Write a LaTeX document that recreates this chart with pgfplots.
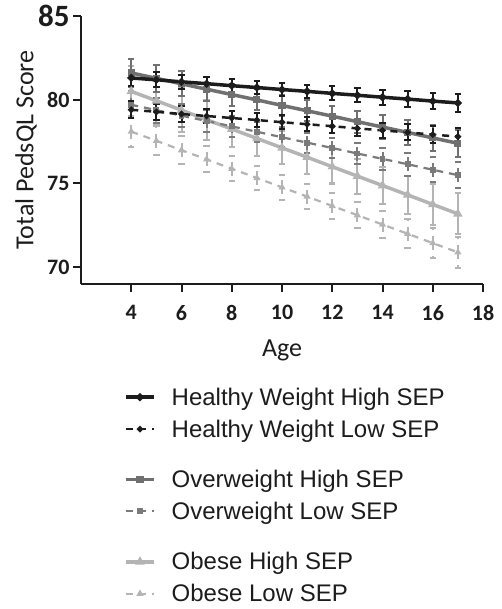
\documentclass[border=0pt]{standalone}
\usepackage{pgfplots}
\pgfplotsset{compat=1.18}
\usepackage{pgfplotstable}
\usepackage{fontspec}
\setmainfont{Carlito}
\newfontfamily\legendfont{Liberation Sans}
\definecolor{cblack}{RGB}{28,28,28}
\definecolor{cgray}{RGB}{112,112,112}
\definecolor{cgrayd}{RGB}{122,122,122}
\definecolor{clight}{RGB}{180,180,180}

\pgfplotstableread{
a y e
4 81.30 0.48
5 81.19 0.45
6 81.07 0.43
7 80.96 0.42
8 80.84 0.40
9 80.73 0.40
10 80.61 0.40
11 80.50 0.40
12 80.38 0.42
13 80.27 0.43
14 80.15 0.45
15 80.04 0.47
16 79.92 0.50
17 79.81 0.52
}\hwhigh
\pgfplotstableread{
a y e
4 79.40 0.50
5 79.28 0.48
6 79.15 0.46
7 79.03 0.44
8 78.91 0.43
9 78.79 0.42
10 78.66 0.42
11 78.54 0.42
12 78.42 0.43
13 78.29 0.44
14 78.17 0.46
15 78.05 0.48
16 77.92 0.50
17 77.80 0.52
}\hwlow
\pgfplotstableread{
a y e
4 81.60 0.85
5 81.28 0.80
6 80.95 0.75
7 80.63 0.70
8 80.31 0.66
9 79.99 0.63
10 79.66 0.62
11 79.34 0.62
12 79.02 0.63
13 78.69 0.66
14 78.37 0.70
15 78.05 0.74
16 77.72 0.78
17 77.40 0.82
}\owhigh
\pgfplotstableread{
a y e
4 79.70 0.80
5 79.38 0.75
6 79.05 0.70
7 78.73 0.66
8 78.41 0.63
9 78.09 0.60
10 77.76 0.59
11 77.44 0.59
12 77.12 0.60
13 76.79 0.63
14 76.47 0.66
15 76.15 0.70
16 75.82 0.74
17 75.50 0.78
}\owlow
\pgfplotstableread{
a y e
4 80.50 1.50
5 79.94 1.40
6 79.38 1.30
7 78.81 1.20
8 78.25 1.10
9 77.69 1.02
10 77.13 0.98
11 76.57 0.98
12 76.00 1.00
13 75.44 1.05
14 74.88 1.10
15 74.32 1.15
16 73.75 1.20
17 73.19 1.22
}\obhigh
\pgfplotstableread{
a y e
4 78.10 0.90
5 77.55 0.86
6 76.99 0.82
7 76.44 0.78
8 75.88 0.76
9 75.33 0.74
10 74.77 0.73
11 74.22 0.74
12 73.66 0.76
13 73.11 0.78
14 72.55 0.82
15 72.00 0.86
16 71.44 0.90
17 70.89 0.94
}\oblow

\begin{document}
\begin{tikzpicture}
\useasboundingbox (-81pt,-325pt) rectangle (421pt,284pt);
\begin{axis}[
  scale only axis,
  width=402pt, height=268pt,
  xmin=2, xmax=18, ymin=69, ymax=85,
  axis x line*=bottom, axis y line*=left,
  axis line style={-, line width=2pt, cblack},
  xtick={4,6,...,18},
  ytick={70,75,80,85},
  yticklabels={70,75,80,{\fontsize{31}{31}\selectfont 85}},
  tick align=outside,
  major tick length=8pt,
  tick style={line width=2pt, cblack},
  /pgf/number format/assume math mode=true,
  tick label style={font=\fontsize{22}{22}\selectfont\bfseries, text=cblack},
  xticklabel style={yshift=-10pt},
  xlabel={Age},
  ylabel={Total PedsQL Score},
  every axis x label/.style={at={(axis description cs:0.5,0)}, yshift=-66pt, anchor=center,
    font=\fontsize{26}{26}\selectfont, text=cblack},
  every axis y label/.style={at={(axis description cs:0,0.5)}, xshift=-55pt, rotate=90, anchor=center,
    font=\fontsize{26}{26}\selectfont, text=cblack},
  clip=false,
  reverse legend,
  legend style={at={(0.107,-0.379)}, anchor=north west, draw=none, fill=none,
    font=\legendfont\fontsize{24}{24}\selectfont, text=cblack,
    row sep=9pt, inner sep=0pt, cells={anchor=west},
    /tikz/column 1/.style={column sep=14pt}},
  legend image code/.code={
    \draw[mark repeat=2,mark phase=2,#1] plot coordinates {(0pt,0pt) (14pt,0pt) (28pt,0pt)};},
  error bars/y dir=both, error bars/y explicit,
  error bars/error bar style={line width=2pt},
  error bars/error mark options={rotate=90, mark size=3.2pt, line width=2pt},
]
% Obese Low SEP
\addplot[clight, line width=2.2pt, dash pattern=on 7pt off 6pt, mark=triangle*, mark size=2pt, mark options={solid}]
  table[x=a, y=y, y error=e] {\oblow};
\addlegendentry{Obese Low SEP}
% Obese High SEP
\addplot[clight, line width=3.5pt, mark=triangle*, mark size=2pt]
  table[x=a, y=y, y error=e] {\obhigh};
\addlegendentry{Obese High SEP}
\addlegendimage{empty legend}
\addlegendentry{\rule{0pt}{4pt}}
% Overweight Low SEP
\addplot[cgrayd, line width=2.2pt, dash pattern=on 7pt off 6pt, mark=square*, mark size=1.8pt, mark options={solid}]
  table[x=a, y=y, y error=e] {\owlow};
\addlegendentry{Overweight Low SEP}
% Overweight High SEP
\addplot[cgray, line width=3.5pt, mark=square*, mark size=1.8pt]
  table[x=a, y=y, y error=e] {\owhigh};
\addlegendentry{Overweight High SEP}
\addlegendimage{empty legend}
\addlegendentry{\rule{0pt}{4pt}}
% Healthy Weight Low SEP
\addplot[cblack, line width=2.5pt, dash pattern=on 7pt off 6pt, mark=*, mark size=1.8pt, mark options={solid}]
  table[x=a, y=y, y error=e] {\hwlow};
\addlegendentry{Healthy Weight Low SEP}
% Healthy Weight High SEP
\addplot[cblack, line width=3.5pt, mark=*, mark size=1.8pt]
  table[x=a, y=y, y error=e] {\hwhigh};
\addlegendentry{Healthy Weight High SEP}
\end{axis}
\end{tikzpicture}
\end{document}
